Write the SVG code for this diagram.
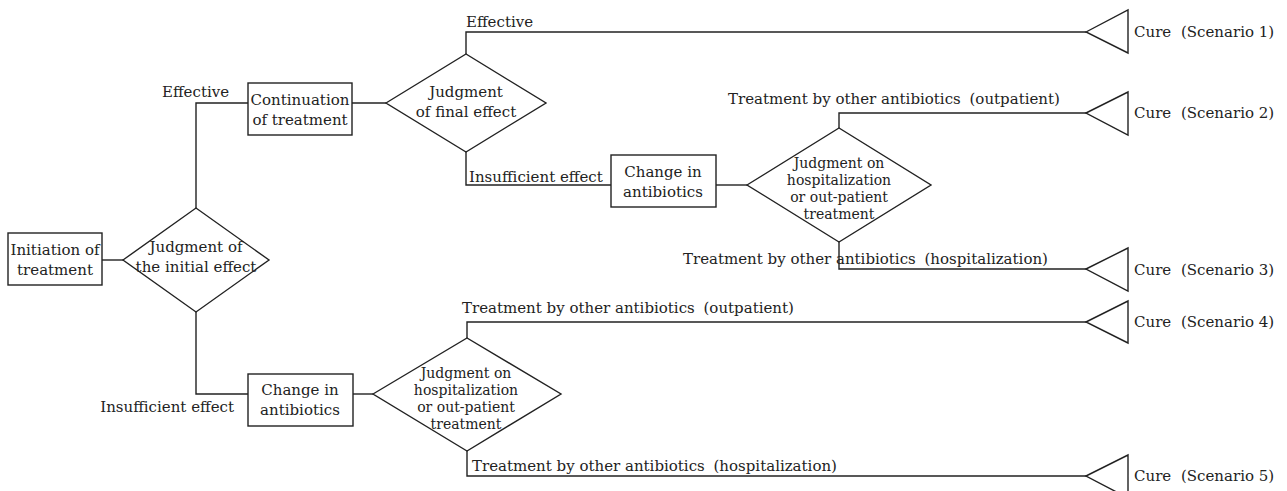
<svg xmlns="http://www.w3.org/2000/svg" width="1287" height="491" viewBox="0 0 1287 491">
<style>
  .shape { fill: #fff; stroke: #222; stroke-width: 1.4; }
  .conn { fill: none; stroke: #222; stroke-width: 1.4; }
  text { font-family: "DejaVu Serif", "Liberation Serif", serif; font-size: 15px; fill: #222; }
  .c { text-anchor: middle; }
  .s { font-size: 14px; }
</style>
<rect width="1287" height="491" fill="#fff"/>
<g id="connectors">
  <path class="conn" d="M102 260 H123"/>
  <path class="conn" d="M196 208 V103 H248"/>
  <path class="conn" d="M352 103 H386"/>
  <path class="conn" d="M466 54 V32 H1086"/>
  <path class="conn" d="M466 152 V185 H611"/>
  <path class="conn" d="M716 185 H747"/>
  <path class="conn" d="M839 128 V113 H1086"/>
  <path class="conn" d="M839 242 V269 H1086"/>
  <path class="conn" d="M196 312 V394 H248"/>
  <path class="conn" d="M353 394 H373"/>
  <path class="conn" d="M467 338 V322 H1086"/>
  <path class="conn" d="M467 451 V476 H1086"/>
</g>
<g id="labels">
  <text x="466" y="27">Effective</text>
  <text x="162" y="97">Effective</text>
  <text x="469" y="182">Insufficient effect</text>
  <text x="728" y="104">Treatment by other antibiotics <tspan dx="4">(outpatient)</tspan></text>
  <text x="683" y="264">Treatment by other antibiotics <tspan dx="4">(hospitalization)</tspan></text>
  <text x="234" y="412" text-anchor="end">Insufficient effect</text>
  <text x="462" y="313">Treatment by other antibiotics <tspan dx="4">(outpatient)</tspan></text>
  <text x="472" y="471">Treatment by other antibiotics <tspan dx="4">(hospitalization)</tspan></text>
</g>
<g id="initiation">
  <rect class="shape" x="8" y="233" width="94" height="52"/>
  <text class="c" x="55" y="255">Initiation of</text>
  <text class="c" x="55" y="275">treatment</text>
</g>
<g id="judgment-initial">
  <polygon class="shape" points="123,260 196,208 269,260 196,312"/>
  <text class="c" x="196" y="252">Judgment of</text>
  <text class="c" x="196" y="272">the initial effect</text>
</g>
<g id="continuation">
  <rect class="shape" x="248" y="83" width="104" height="52"/>
  <text class="c" x="300" y="105">Continuation</text>
  <text class="c" x="300" y="125">of treatment</text>
</g>
<g id="judgment-final">
  <polygon class="shape" points="386,103 466,54 546,103 466,152"/>
  <text class="c" x="466" y="97">Judgment</text>
  <text class="c" x="466" y="117">of final effect</text>
</g>
<g id="change-upper">
  <rect class="shape" x="611" y="155" width="105" height="52"/>
  <text class="c" x="663" y="177">Change in</text>
  <text class="c" x="663" y="197">antibiotics</text>
</g>
<g id="judgment-hosp-upper">
  <polygon class="shape" points="747,185 839,128 931,185 839,242"/>
  <text class="c s" x="839" y="168">Judgment on</text>
  <text class="c s" x="839" y="185">hospitalization</text>
  <text class="c s" x="839" y="202">or out-patient</text>
  <text class="c s" x="839" y="219">treatment</text>
</g>
<g id="change-lower">
  <rect class="shape" x="248" y="374" width="105" height="52"/>
  <text class="c" x="300" y="395">Change in</text>
  <text class="c" x="300" y="415">antibiotics</text>
</g>
<g id="judgment-hosp-lower">
  <polygon class="shape" points="373,394 467,338 561,394 467,451"/>
  <text class="c s" x="466" y="378">Judgment on</text>
  <text class="c s" x="466" y="395">hospitalization</text>
  <text class="c s" x="466" y="412">or out-patient</text>
  <text class="c s" x="466" y="429">treatment</text>
</g>
<g id="cure1">
  <polygon class="shape" points="1086,32 1128,10 1128,53"/>
  <text x="1134" y="37">Cure <tspan dx="5">(Scenario 1)</tspan></text>
</g>
<g id="cure2">
  <polygon class="shape" points="1086,113 1128,92 1128,135"/>
  <text x="1134" y="118">Cure <tspan dx="5">(Scenario 2)</tspan></text>
</g>
<g id="cure3">
  <polygon class="shape" points="1086,269 1128,248 1128,291"/>
  <text x="1134" y="275">Cure <tspan dx="5">(Scenario 3)</tspan></text>
</g>
<g id="cure4">
  <polygon class="shape" points="1086,322 1128,301 1128,343"/>
  <text x="1134" y="327">Cure <tspan dx="5">(Scenario 4)</tspan></text>
</g>
<g id="cure5">
  <polygon class="shape" points="1086,476 1128,455 1128,498"/>
  <text x="1134" y="481">Cure <tspan dx="5">(Scenario 5)</tspan></text>
</g>
</svg>
